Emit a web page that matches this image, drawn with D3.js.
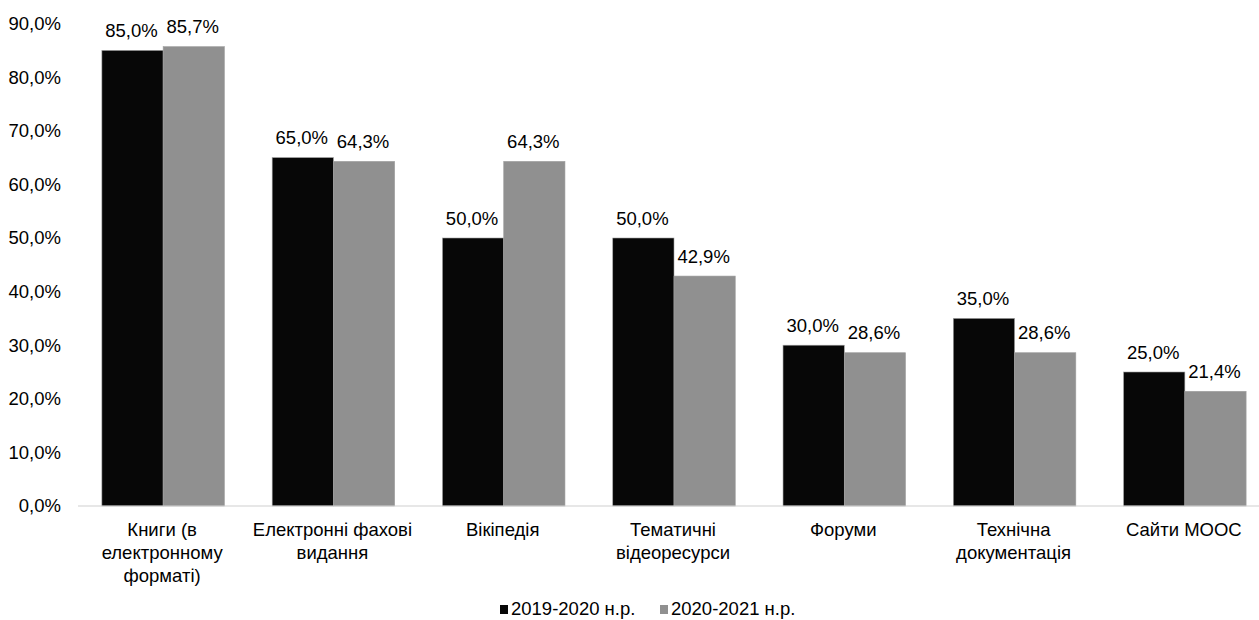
<!DOCTYPE html>
<html><head><meta charset="utf-8">
<script src="https://cdn.jsdelivr.net/npm/d3@7"></script>
<style>body{margin:0;background:#fff}text{font-family:"Liberation Sans",Arial,sans-serif;fill:#000}</style>
</head><body><svg id="c" width="1259" height="620"></svg>
<script>
const categories = [["Книги (в","електронному","форматі)"],["Електронні фахові","видання"],["Вікіпедія"],["Тематичні","відеоресурси"],["Форуми"],["Технічна","документація"],["Сайти МООС"]];
const series1Name = "2019-2020 н.р.";
const series2Name = "2020-2021 н.р.";
const series1 = [85.0, 65.0, 50.0, 50.0, 30.0, 35.0, 25.0];
const series2 = [85.7, 64.3, 64.3, 42.9, 28.6, 28.6, 21.4];
const yTicks = [0,10,20,30,40,50,60,70,80,90];
const colors = ["#070707", "#909090"];

const FS = "18.5px";
const svg = d3.select("#c");
const fmt = v => v.toFixed(1).replace(".", ",") + "%";
const x = d3.scaleBand().domain(d3.range(categories.length)).range([78, 1270]).paddingInner(0).paddingOuter(0);
const y = d3.scaleLinear().domain([0, 90]).range([506, 23.6]);
const inner = d3.scaleBand().domain([0,1]).range([0, x.bandwidth()]).paddingOuter(0.39).paddingInner(0);

// y tick labels
svg.append("g").selectAll("text").data(yTicks).join("text")
  .attr("x", 61).attr("y", d => y(d)).attr("dy", "0.35em")
  .attr("text-anchor", "end").style("font-size", FS).text(d => fmt(d));

const data = [series1, series2];
data.forEach((s, si) => {
  const g = svg.append("g");
  g.selectAll("rect").data(s).join("rect")
    .attr("x", (d, i) => x(i) + inner(si)).attr("width", inner.bandwidth())
    .attr("y", d => y(d)).attr("height", d => y(0) - y(d))
    .attr("fill", colors[si]).attr("stroke", "#a0a0a0").attr("stroke-width", 0.6);
  g.selectAll("text").data(s).join("text")
    .attr("x", (d, i) => x(i) + inner(si) + inner.bandwidth() / 2 - 1)
    .attr("y", d => y(d) - 13.5)
    .attr("text-anchor", "middle").style("font-size", FS).text(d => fmt(d));
});

// baseline
svg.append("line").attr("x1", 78).attr("x2", 1259).attr("y1", y(0)).attr("y2", y(0))
  .attr("stroke", "#d0d0d0").attr("stroke-width", 1.2);

// category labels
const cg = svg.append("g");
categories.forEach((lines, i) => {
  const cx = x(i) + x.bandwidth() / 2 - 1;
  const t = cg.append("text").attr("text-anchor", "middle").style("font-size", FS)
    .attr("x", cx).attr("y", 536);
  lines.forEach((l, j) => t.append("tspan").attr("x", cx).attr("dy", j ? 22.8 : 0).text(l));
});

// legend
const leg = [{n: series1Name, c: colors[0], x: 500}, {n: series2Name, c: colors[1], x: 660}];
const lg = svg.append("g");
lg.selectAll("rect").data(leg).join("rect").attr("x", d => d.x).attr("y", 605).attr("width", 8).attr("height", 9).attr("fill", d => d.c);
lg.selectAll("text").data(leg).join("text").attr("x", d => d.x + 11).attr("y", 615)
  .style("font-size", FS).text(d => d.n);
</script></body></html>
